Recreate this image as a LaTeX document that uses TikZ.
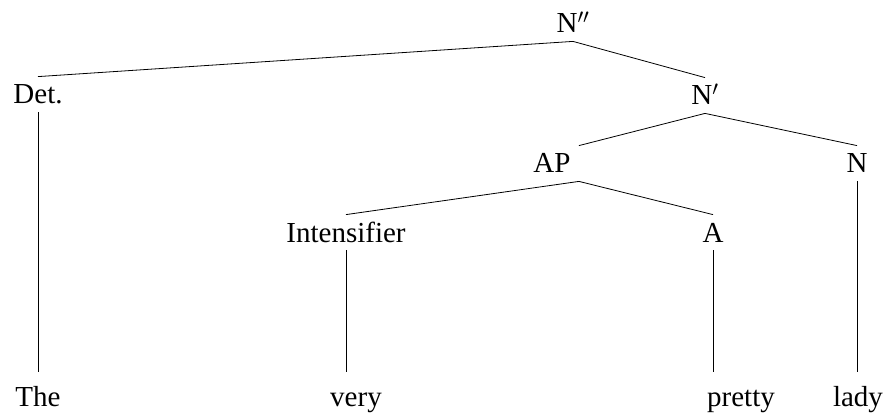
\documentclass[tikz,border=0pt]{standalone}
\usepackage{fontspec}
\setmainfont{Liberation Serif}
\usepackage{tikz}

\begin{document}
\begin{tikzpicture}[x=1pt,y=1pt,yscale=-1,xscale=1,line width=0.8pt,
  lbl/.style={anchor=base,inner sep=8pt,text height=19pt,text depth=0pt,font=\fontsize{29}{31}\selectfont},
  leaf/.style={lbl,inner ysep=15pt}]
\useasboundingbox (0,0) rectangle (896,414);

% Text Node
\node [lbl] (nbarbar) at (573,33) {N$''$};
% Text Node
\node [lbl] (det) at (38,104) {Det.};
% Text Node
\node [lbl] (nbar) at (705,105) {N$'$};
% Text Node
\node [lbl] (ap) at (552,173) {AP};
% Text Node
\node [lbl] (n) at (857,173) {N};
% Text Node
\node [lbl] (intens) at (346,242) {Intensifier};
% Text Node
\node [lbl] (adj) at (713,242) {A};
% Text Node
\node [leaf] (the) at (38,406) {The};
% Text Node
\node [leaf] (very) at (356,406) {very};
% Text Node
\node [leaf] (pretty) at (741,406) {pretty};
% Text Node
\node [leaf] (lady) at (858,406) {lady};

%Straight Lines
\draw (nbarbar.south) -- (det.north);
\draw (nbarbar.south) -- (nbar.north);
\draw (nbar.south) -- (ap.north east);
\draw (nbar.south) -- (n.north);
\draw (ap.south east) -- (intens.north);
\draw (ap.south east) -- (adj.north);
%Straight Lines (vertical)
\draw (det.south) -- (det.south |- the.north);
\draw (intens.south) -- (intens.south |- very.north);
\draw (adj.south) -- (adj.south |- pretty.north);
\draw (n.south) -- (n.south |- lady.north);

\end{tikzpicture}
\end{document}
